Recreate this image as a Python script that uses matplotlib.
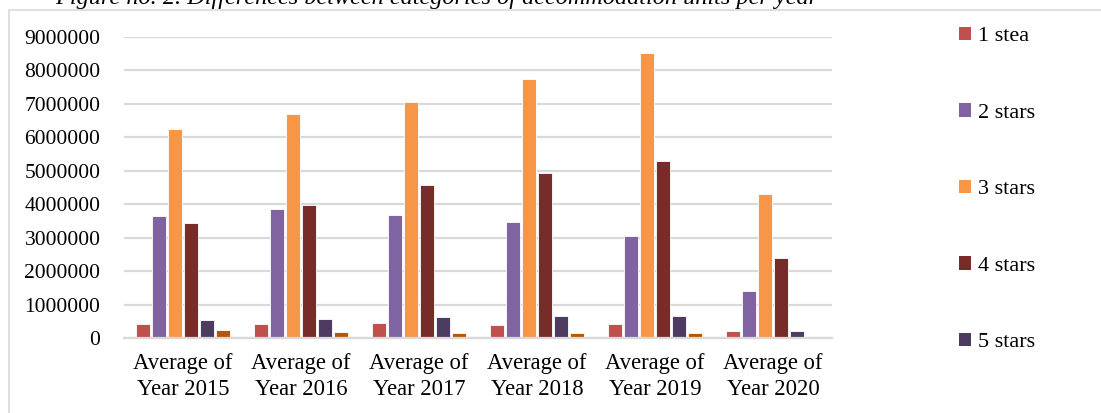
import matplotlib
matplotlib.use("Agg")
import matplotlib.pyplot as plt
from matplotlib.patches import Rectangle, Patch
import numpy as np

plt.rcParams['font.family'] = ['Liberation Serif', 'DejaVu Serif']

categories = ["Average of\nYear 2015", "Average of\nYear 2016", "Average of\nYear 2017",
              "Average of\nYear 2018", "Average of\nYear 2019", "Average of\nYear 2020"]
series_names = ["1 stea", "2 stars", "3 stars", "4 stars", "5 stars", "Unclassified"]
one_star = [420000, 420000, 460000, 400000, 430000, 220000]
two_stars = [3660000, 3850000, 3680000, 3470000, 3060000, 1420000]
three_stars = [6260000, 6690000, 7050000, 7750000, 8530000, 4310000]
four_stars = [3450000, 3970000, 4580000, 4930000, 5280000, 2390000]
five_stars = [530000, 580000, 640000, 670000, 670000, 220000]
unclassified = [240000, 180000, 150000, 150000, 160000, 40000]
colors = ["#C0504D", "#8064A2", "#F79646", "#772C2A", "#4D3B62", "#B65708"]
yticks = [0, 1000000, 2000000, 3000000, 4000000, 5000000, 6000000, 7000000, 8000000, 9000000]

W, H = 1101, 413
fig = plt.figure(figsize=(W / 100, H / 100), dpi=100)
ax = fig.add_axes([124 / W, 1 - 338 / H, (832 - 124) / W, (338 - 37) / H])

all_series = [one_star, two_stars, three_stars, four_stars, five_stars, unclassified]
x = np.arange(len(categories))
slot = 0.136
for i, (vals, col) in enumerate(zip(all_series, colors)):
    offs = (i - 2.5) * slot
    ax.bar(x + offs, vals, width=slot * 0.88, color=col, edgecolor="white",
           linewidth=0.6, label=series_names[i], zorder=3)

ax.set_xlim(-0.5, 5.5)
ax.set_ylim(0, 9000000)
ax.set_yticks(yticks)
ax.set_yticklabels([str(v) for v in yticks], fontsize=15.5)
ax.set_xticks(x)
ax.set_xticklabels(categories, fontsize=16.3, linespacing=1.3)
ax.tick_params(axis="both", length=0)
ax.tick_params(axis="y", pad=17)
ax.tick_params(axis="x", pad=11)
ax.yaxis.grid(True, color="#D9D9D9", linewidth=1.6, zorder=0)
for s in ["top", "right", "left"]:
    ax.spines[s].set_visible(False)
ax.spines["bottom"].set_color("#D9D9D9")
ax.spines["bottom"].set_linewidth(1.6)
ax.spines["bottom"].set_zorder(4)

handles = [Patch(facecolor=c, edgecolor="none") for c in colors[:5]]
fig.legend(handles, series_names[:5], loc="upper left", bbox_to_anchor=(950 / W, 1 - 18 / H),
           frameon=False, fontsize=16, handlelength=0.55, handleheight=0.55,
           handletextpad=0.3, labelspacing=2.56, borderaxespad=0)

# outer chart border
fig.patches.append(Rectangle((9 / W, -0.1), 1.2, 1.1 - 10 / H, transform=fig.transFigure,
                             fill=False, edgecolor="#D9D9D9", linewidth=1.2))

fig.text(437 / W, 1 - 4 / H, "Figure no. 2. Differences between categories of accommodation units per year",
         ha="center", va="baseline", fontsize=17.5, style="italic")

fig.savefig("out.png", dpi=100)
